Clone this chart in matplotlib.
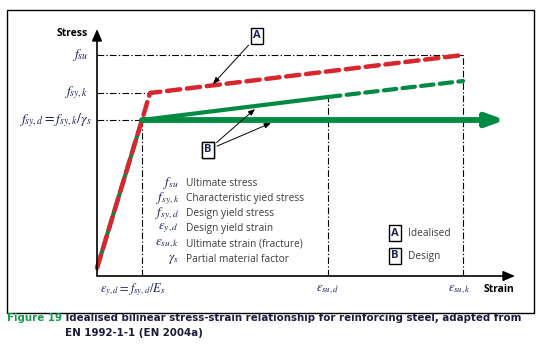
import numpy as np
import matplotlib
matplotlib.use('Agg')
import matplotlib.pyplot as plt
from matplotlib.patches import Rectangle

plt.rcParams['mathtext.fontset'] = 'stix'
plt.rcParams['font.family'] = ['Open Sans', 'DejaVu Sans']

# ---- data (diagram units: px-like offsets from the origin) ----
strain_marks = {'eps_yd': 45, 'eps_sud': 231, 'eps_suk': 366}
stress_marks = {'f_syd': 156, 'f_syk': 183, 'f_su': 221}
stress_start = 8

# idealised (A) curve: elastic, knee, hardening to f_su at eps_suk
ideal_strain = [0, 45, 53, 366]
ideal_stress = [stress_start, 156, 183, 221]
# design (B): inclined branch, solid to eps_sud then dashed to eps_suk
design_strain_solid = [0, 45, 231]
design_stress_solid = [stress_start, 156, 179]
design_strain_dash = [231, 366]
design_stress_dash = [179, 195]
# design horizontal branch
horiz_end = 408

legend_sym = [r'$f_{su}$', r'$f_{sy,k}$', r'$f_{sy,d}$', r'$\varepsilon_{y,d}$',
              r'$\varepsilon_{su,k}$', r'$\gamma_s$']
legend_txt = ['Ultimate stress', 'Characteristic yied stress', 'Design yield stress',
              'Design yield strain', 'Ultimate strain (fracture)', 'Partial material factor']

red = '#d7262e'
green = '#008a43'
navy = '#1d2455'
grey = '#3c3c3c'
dashdot = (0, (6, 2, 1.2, 2))

fig = plt.figure(figsize=(5.43, 3.57), dpi=100)
ax = fig.add_axes([0, 0, 1, 1])
ax.set_xlim(-97, 543 - 97)
ax.set_ylim(276 - 357, 276)
ax.axis('off')

# outer frame
ax.add_patch(Rectangle((-90.3, -37), 527.3, 303, fill=False, lw=1.0, ec='k'))

# reference dash-dot lines
eyd, esud, esuk = strain_marks['eps_yd'], strain_marks['eps_sud'], strain_marks['eps_suk']
fyd, fyk, fsu = stress_marks['f_syd'], stress_marks['f_syk'], stress_marks['f_su']
ax.plot([0, esuk], [fsu, fsu], color='k', lw=0.8, ls=dashdot)
ax.plot([0, ideal_strain[2]], [fyk, fyk], color='k', lw=0.8, ls=dashdot)
ax.plot([0, eyd], [fyd, fyd], color='k', lw=0.8, ls=dashdot)
ax.plot([eyd, eyd], [0, fyd], color='k', lw=0.8, ls=dashdot)
ax.plot([esud, esud], [0, design_stress_solid[-1]], color='k', lw=0.8, ls=dashdot)
ax.plot([esuk, esuk], [0, fsu], color='k', lw=0.8, ls=dashdot)

# axes with arrows
ax.annotate('', xy=(0, 247), xytext=(0, 0),
            arrowprops=dict(arrowstyle='-|>,head_length=0.7,head_width=0.3', lw=1.2,
                            color='k', shrinkA=0, shrinkB=0))
ax.annotate('', xy=(418, 0), xytext=(0, 0),
            arrowprops=dict(arrowstyle='-|>,head_length=0.7,head_width=0.3', lw=1.2,
                            color='k', shrinkA=0, shrinkB=0))

# design curves (green)
ax.plot(design_strain_solid, design_stress_solid, color=green, lw=3, solid_capstyle='butt')
ax.plot(design_strain_dash, design_stress_dash, color=green, lw=3, ls=(0, (3, 1.5)),
        dash_capstyle='round')
ax.annotate('', xy=(horiz_end, fyd), xytext=(eyd, fyd),
            arrowprops=dict(arrowstyle='-|>,head_length=1.5,head_width=0.55', lw=4.2,
                            color=green, shrinkA=0, shrinkB=0, mutation_scale=7))

# idealised curve (red dashed)
ax.plot(ideal_strain, ideal_stress, color=red, lw=3.2, ls=(0, (3, 1.5)),
        dash_capstyle='round', solid_joinstyle='round', dash_joinstyle='round')

# axis labels
ax.text(-9, 243, 'Stress', ha='right', va='center', fontsize=7.5, fontweight='bold')
ax.text(402, -13, 'Strain', ha='center', va='center', fontsize=7.5, fontweight='bold')

ax.text(-9, fsu, r'$f_{su}$', ha='right', va='center', fontsize=10, color=navy)
ax.text(-9, fyk, r'$f_{sy,k}$', ha='right', va='center', fontsize=10, color=navy)
ax.text(-5, fyd, r'$f_{sy,d} = f_{sy,k}/\gamma_s$', ha='right', va='center', fontsize=10,
        color=navy)
ax.text(36, -14, r'$\varepsilon_{y,d} = f_{sy,d}/E_s$', ha='center', va='center',
        fontsize=9, color=navy)
ax.text(esud, -14, r'$\varepsilon_{su,d}$', ha='center', va='center', fontsize=9, color=navy)
ax.text(362, -14, r'$\varepsilon_{su,k}$', ha='center', va='center', fontsize=9, color=navy)

# symbol legend
for i, (s, t) in enumerate(zip(legend_sym, legend_txt)):
    yy = 93 - i * 15.2
    ax.text(82, yy, s, ha='right', va='center', fontsize=9.5, color=navy)
    ax.text(89, yy, t, ha='left', va='center', fontsize=7.3, color=grey)

boxprops = dict(boxstyle='square,pad=0.2', fc='white', ec='k', lw=1.0)
ax.text(298, 43, 'A', ha='center', va='center', fontsize=8, fontweight='bold', color=navy,
        bbox=boxprops)
ax.text(311, 43, 'Idealised', ha='left', va='center', fontsize=7.3, color=grey)
ax.text(298, 20, 'B', ha='center', va='center', fontsize=8, fontweight='bold', color=navy,
        bbox=boxprops)
ax.text(311, 20, 'Design', ha='left', va='center', fontsize=7.3, color=grey)

# callouts
arr = dict(arrowstyle='-|>,head_length=0.5,head_width=0.2', lw=0.7, color='k', shrinkB=0)
ax.annotate('A', xy=(116, 192), xytext=(160, 240), ha='center', va='center', fontsize=8,
            fontweight='bold', color=navy, bbox=boxprops, arrowprops=arr)
ax.annotate('B', xy=(158, 167), xytext=(111, 126), ha='center', va='center', fontsize=8,
            fontweight='bold', color=navy, bbox=boxprops, arrowprops=arr)
ax.annotate('B', xy=(174, 153), xytext=(111, 126), ha='center', va='center', fontsize=8,
            fontweight='bold', color=navy, bbox=boxprops, arrowprops=arr)

# caption
cap = dict(fontsize=8.2, fontweight='bold', family=['DejaVu Sans'], fontstretch='condensed')
t1 = ax.text(-90, -42, 'Figure 19', ha='left', va='center', color='#1a9a4c', **cap)
t2 = ax.annotate(' Idealised bilinear stress-strain relationship for reinforcing steel, adapted from',
                 xy=(1, 0), xycoords=t1, ha='left', va='bottom', color='#1b1b3a', **cap)
ax.annotate('EN 1992-1-1 (EN 2004a)', xy=(0, 0), xycoords=t2, xytext=(2.5, -11),
            textcoords='offset points', ha='left', va='bottom', color='#1b1b3a', **cap)

fig.savefig('out.png', dpi=100)
